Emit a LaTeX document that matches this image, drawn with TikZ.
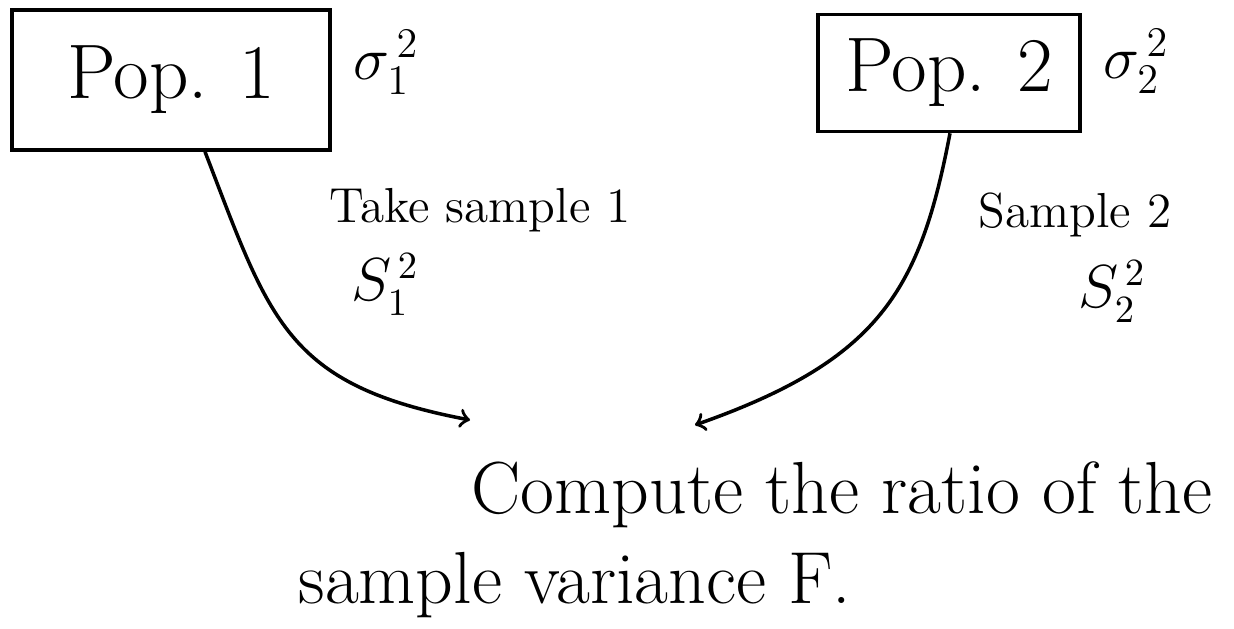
\documentclass[tikz,border=0pt]{standalone}
\usepackage{amsmath}
\usepackage{amssymb}
\usepackage{tikz}
\usetikzlibrary{positioning}

\begin{document}
\begin{tikzpicture}[x=0.1mm, y=-0.1mm, line width=1pt, every node/.style={inner sep=0pt}]
  \useasboundingbox (0,0) rectangle (1234,629);
  % populations
  \node[draw, minimum width=31.8mm, minimum height=14mm] (pop1) at (171,80) {\fontsize{22}{26}\selectfont Pop. 1};
  \node[draw, minimum width=26.2mm, minimum height=11.7mm] (pop2) at (949,73) {\fontsize{22}{26}\selectfont Pop. 2};
  % variances of the populations
  \node[right=2mm of pop1.north east, anchor=north west, yshift=-2mm] (var1) {\fontsize{18}{22}\selectfont $\sigma_1^{\,2}$};
  \node[right=2mm of pop2.north east, anchor=north west, yshift=-1.5mm] (var2) {\fontsize{18}{22}\selectfont $\sigma_2^{\,2}$};
  % result
  \node (ratio) at (842,495) {\fontsize{21}{25}\selectfont Compute the ratio of the};
  \node (variance) at (575,585) {\fontsize{21}{25}\selectfont sample variance F.};
  \coordinate (end1) at (470,420);
  \coordinate (end2) at (695,425);
  % samples
  \draw[->] ([xshift=3.4mm]pop1.south) .. controls (270,320) and (285,385) .. (end1);
  \draw[->] ([xshift=0.1mm]pop2.south) .. controls (920,290) and (880,360) .. (end2);
  \node (take1) at (480,210) {\fontsize{14}{17}\selectfont Take sample 1};
  \node (s1) at (385,285) {\fontsize{16}{19}\selectfont $S_1^{\,2}$};
  \node (take2) at (1075,215) {\fontsize{14}{17}\selectfont Sample 2};
  \node (s2) at (1112,292) {\fontsize{16}{19}\selectfont $S_2^{\,2}$};
\end{tikzpicture}
\end{document}
